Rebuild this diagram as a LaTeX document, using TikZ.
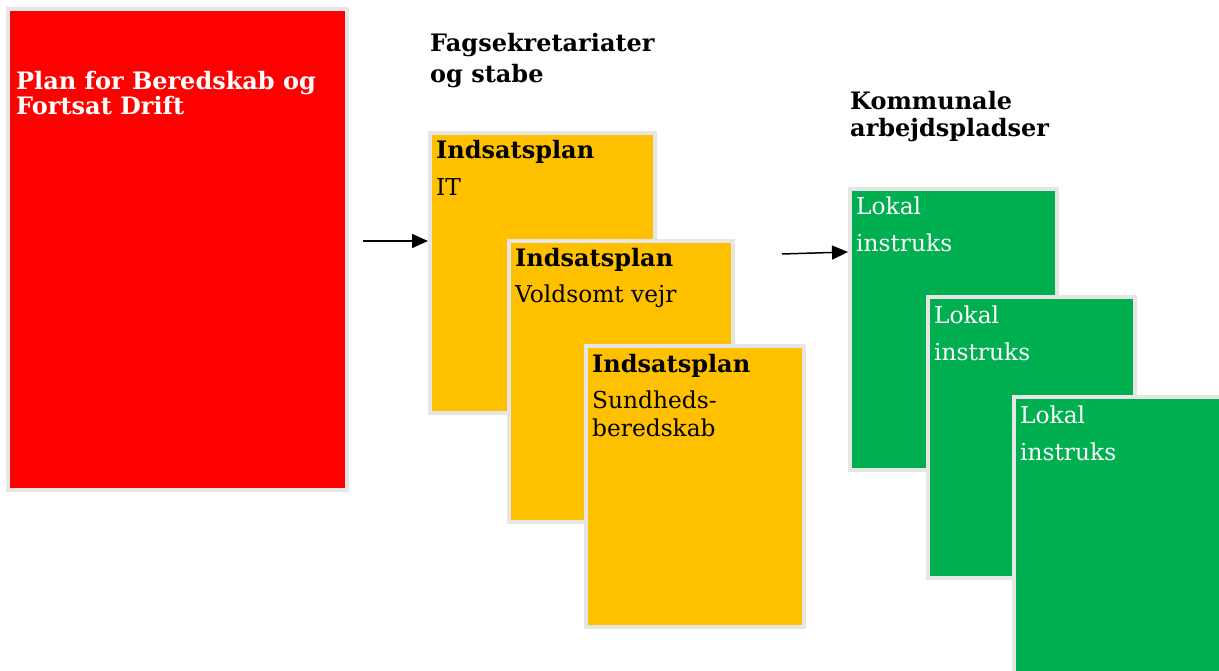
\documentclass[tikz,border=0pt]{standalone}
\usepackage{fontspec}
\setmainfont{DejaVu Serif}
\usetikzlibrary{arrows.meta,positioning}

\definecolor{planred}{HTML}{FF0000}
\definecolor{planorange}{HTML}{FFC000}
\definecolor{plangreen}{HTML}{00B050}
\definecolor{planframe}{HTML}{E6E6E6}

\begin{document}
\begin{tikzpicture}[x=1pt,y=-1pt,>={Triangle[length=16pt,width=14pt]},
	box/.style={draw=planframe,line width=4pt,inner sep=0pt,anchor=north west},
	redbox/.style={box,fill=planred,minimum width=339pt,minimum height=481pt},
	ipbox/.style={box,fill=planorange,minimum height=281pt},
	lokbox/.style={box,fill=plangreen,minimum width=207pt,minimum height=281pt},
	title/.style={font=\fontsize{24}{#1}\selectfont\bfseries,align=left,inner sep=0pt,anchor=base west},
	title/.default=25,
	body/.style={font=\fontsize{23.3}{#1}\selectfont,align=left,inner sep=0pt,anchor=base west},
	body/.default=28,
	arrow/.style={->,line width=1.5pt}]
	\clip (0,0) rectangle (1219,671);
	\useasboundingbox (0,0) rectangle (1219,671);
	% red plan (base = last line)
	\node[redbox] (plan) at (6,7) {};
	\node[title,text=white] (plantxt) at ([shift={(10,108)}]plan.north west) {Plan for Beredskab og\\Fortsat Drift};
	% headings
	\node[title=31] (fag) at (430,83) {Fagsekretariater\\og stabe};
	\node[title=27] (kom) at (850,137) {Kommunale\\arbejdspladser};
	% indsatsplaner
	\node[ipbox,minimum width=225pt,minimum height=280pt] (ip1) at (428,131) {};
	\node[title] (ip1h) at ([shift={(8,28)}]ip1.north west) {Indsatsplan};
	\node[body]  (ip1b) at ([shift={(0,37)}]ip1h.base west) {IT};
	\node[ipbox,minimum width=224pt] (ip2) at (507,239) {};
	\node[title] (ip2h) at ([shift={(8,28)}]ip2.north west) {Indsatsplan};
	\node[body]  (ip2b) at ([shift={(0,36)}]ip2h.base west) {Voldsomt vejr};
	\node[ipbox,minimum width=218pt] (ip3) at (584,344) {};
	\node[title] (ip3h) at ([shift={(8,28)}]ip3.north west) {Indsatsplan};
	\node[body]  (ip3b) at ([shift={(0,64)}]ip3h.base west) {Sundheds-\\beredskab};
	% lokale instrukser
	\foreach \n/\x/\y in {1/848/187, 2/926/295, 3/1012/395}{
		\node[lokbox] (lok\n) at (\x,\y) {};
		\node[body=37,text=white] (lok\n t) at ([shift={(8,65)}]lok\n.north west) {Lokal\\instruks};
	}
	% pile
	\coordinate (ipstart) at (363,241);
	\coordinate (lokstart) at (782,254);
	\draw[arrow] (ipstart) -- (ipstart -| ip1.west);
	\draw[arrow] (lokstart) -- ([yshift=77.5pt]lok1.west);
\end{tikzpicture}
\end{document}
